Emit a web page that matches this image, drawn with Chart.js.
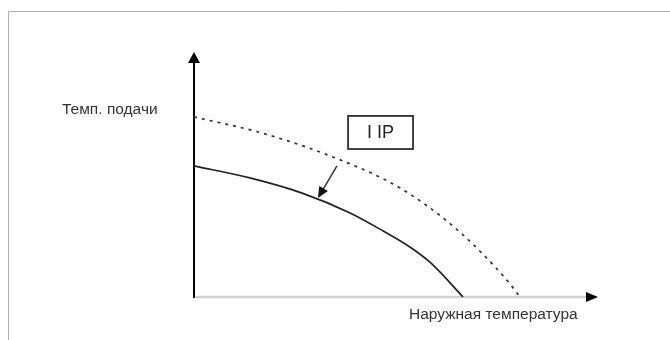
<!DOCTYPE html>
<html>
<head>
<meta charset="utf-8">
<script src="https://cdn.jsdelivr.net/npm/chart.js@4.4.1/dist/chart.umd.min.js"></script>
<style>
  html, body { margin: 0; padding: 0; background: #fff; }
  #wrap { width: 670px; height: 340px; position: relative; }
</style>
</head>
<body>
<div id="wrap"><canvas id="c" width="670" height="340"></canvas></div>
<script>
// Outdoor temperature (relative units) vs supply temperature (relative units)
const solidX = [0, 14.1, 27.3, 39.4, 47.7, 54.5, 59.5, 64.6, 67.9];
const solidY = [53.5, 48.6, 42.4, 34.3, 27.0, 20.4, 14.3, 5.9, 0];
const dashedX = [0, 17.2, 36.4, 52.0, 65.9, 79.0, 82.3];
const dashedY = [73.5, 66.9, 56.3, 44.5, 28.2, 6.9, 0];
const yAxisTitle = 'Темп. подачи';
const xAxisTitle = 'Наружная температура';
const boxLabel = 'I IP';
// annotation box (data units) and pointer arrow
const boxX = [38.9, 55.3];
const boxY = [60.4, 73.9];
const pointerX = [36.1, 31.3];
const pointerY = [53.5, 40.4];

const toPts = (xs, ys) => xs.map((x, i) => ({ x, y: ys[i] }));

const decor = {
  id: 'decor',
  beforeDatasetsDraw(chart) {
    const ctx = chart.ctx;
    const xs = chart.scales.x, ys = chart.scales.y;
    ctx.save();
    // frame lines (top and left)
    ctx.strokeStyle = '#b0b0b0';
    ctx.lineWidth = 1;
    ctx.beginPath();
    ctx.moveTo(8.5, 340); ctx.lineTo(8.5, 11.5); ctx.lineTo(670, 11.5);
    ctx.stroke();

    const x0 = xs.getPixelForValue(0), y0 = ys.getPixelForValue(0);
    const xEnd = xs.getPixelForValue(xs.max), yEnd = ys.getPixelForValue(ys.max);
    // x axis (gray) with black arrow
    ctx.strokeStyle = '#d0d0d0';
    ctx.lineWidth = 2.5;
    ctx.beginPath(); ctx.moveTo(x0, y0); ctx.lineTo(xEnd - 10, y0); ctx.stroke();
    ctx.fillStyle = '#000';
    ctx.beginPath();
    ctx.moveTo(xEnd, y0); ctx.lineTo(xEnd - 12, y0 - 5); ctx.lineTo(xEnd - 12, y0 + 5); ctx.closePath();
    ctx.fill();
    // y axis (black) with arrow
    ctx.strokeStyle = '#000';
    ctx.lineWidth = 2;
    ctx.beginPath(); ctx.moveTo(x0, y0 + 1); ctx.lineTo(x0, yEnd + 8); ctx.stroke();
    ctx.beginPath();
    ctx.moveTo(x0, yEnd); ctx.lineTo(x0 - 6, yEnd + 11); ctx.lineTo(x0 + 6, yEnd + 11); ctx.closePath();
    ctx.fill();

    // titles
    ctx.fillStyle = '#333';
    ctx.font = '15.5px "Liberation Sans", Arial, sans-serif';
    ctx.textBaseline = 'middle';
    ctx.textAlign = 'left';
    ctx.fillText(yAxisTitle, 62, 110);
    ctx.fillText(xAxisTitle, 409, 315);

    // annotation box
    const bx1 = xs.getPixelForValue(boxX[0]), bx2 = xs.getPixelForValue(boxX[1]);
    const by1 = ys.getPixelForValue(boxY[1]), by2 = ys.getPixelForValue(boxY[0]);
    ctx.strokeStyle = '#222';
    ctx.lineWidth = 1.7;
    ctx.strokeRect(bx1, by1, bx2 - bx1, by2 - by1);
    ctx.fillStyle = '#222';
    ctx.textAlign = 'center';
    ctx.font = '18px "Liberation Sans", Arial, sans-serif';
    ctx.fillText(boxLabel, (bx1 + bx2) / 2, (by1 + by2) / 2 + 1);

    // pointer arrow
    const px1 = xs.getPixelForValue(pointerX[0]), py1 = ys.getPixelForValue(pointerY[0]);
    const px2 = xs.getPixelForValue(pointerX[1]), py2 = ys.getPixelForValue(pointerY[1]);
    const ang = Math.atan2(py2 - py1, px2 - px1);
    ctx.strokeStyle = '#333';
    ctx.lineWidth = 1.5;
    ctx.beginPath(); ctx.moveTo(px1, py1);
    ctx.lineTo(px2 - 8 * Math.cos(ang), py2 - 8 * Math.sin(ang)); ctx.stroke();
    ctx.fillStyle = '#111';
    ctx.beginPath();
    ctx.moveTo(px2, py2);
    ctx.lineTo(px2 - 11 * Math.cos(ang) + 5 * Math.sin(ang), py2 - 11 * Math.sin(ang) - 5 * Math.cos(ang));
    ctx.lineTo(px2 - 11 * Math.cos(ang) - 5 * Math.sin(ang), py2 - 11 * Math.sin(ang) + 5 * Math.cos(ang));
    ctx.closePath(); ctx.fill();
    ctx.restore();
  }
};

new Chart(document.getElementById('c'), {
  type: 'scatter',
  data: {
    datasets: [
      {
        data: toPts(dashedX, dashedY),
        showLine: true,
        borderColor: '#333',
        borderWidth: 1.7,
        borderDash: [3, 5],
        pointRadius: 0,
        cubicInterpolationMode: 'monotone',
        clip: false
      },
      {
        data: toPts(solidX, solidY),
        showLine: true,
        borderColor: '#222',
        borderWidth: 1.7,
        pointRadius: 0,
        cubicInterpolationMode: 'monotone',
        clip: false
      }
    ]
  },
  options: {
    responsive: false,
    animation: false,
    events: [],
    layout: { padding: { left: 194, right: 72, top: 52, bottom: 43 } },
    plugins: { legend: { display: false }, tooltip: { enabled: false } },
    scales: {
      x: { type: 'linear', min: 0, max: 102, display: false },
      y: { type: 'linear', min: 0, max: 100, display: false }
    }
  },
  plugins: [decor]
});
</script>
</body>
</html>
